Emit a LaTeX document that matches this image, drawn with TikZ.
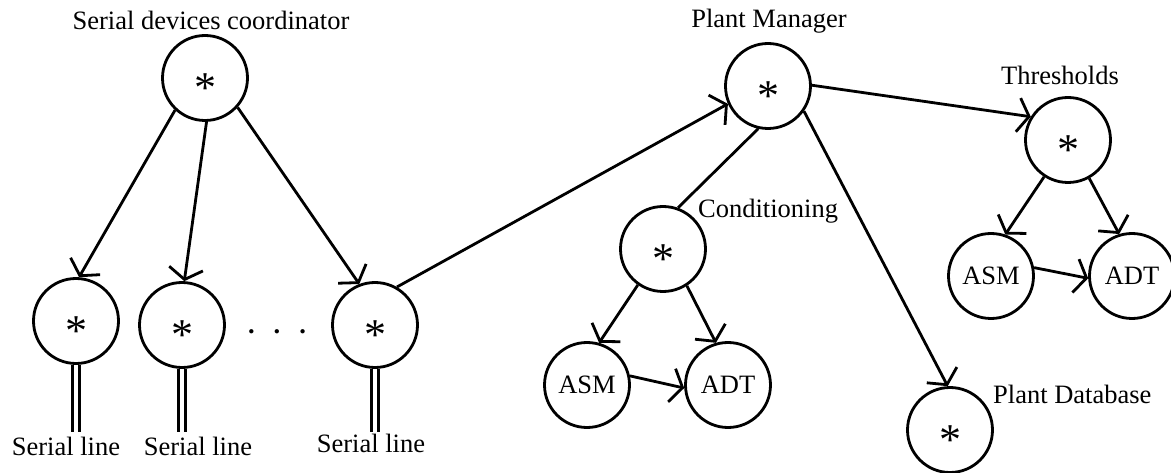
\documentclass[tikz,border=0pt]{standalone}
\usepackage{fontspec}
\setmainfont{Liberation Serif}
\usetikzlibrary{arrows.meta}
% larger asterisk used inside the component bubbles
\newcommand{\starglyph}{{\fontsize{44pt}{46pt}\selectfont *}}
\begin{document}
\begin{tikzpicture}[x=1pt,y=-1pt,
  font=\fontsize{26.5pt}{31pt}\selectfont,
  bubble/.style={circle, draw, line width=2.8pt, minimum size=85pt, inner sep=0pt},
  hub/.style={bubble, text height=49pt, text depth=0pt},
  flow/.style={line width=2.8pt, -{Straight Barb[length=11pt,width=34pt]}},
  link/.style={line width=2.8pt},
  serialwire/.style={line width=3pt, double, double distance=4.5pt},
  tag/.style={inner sep=0pt, anchor=base}
]
\useasboundingbox (0,0) rectangle (1171,473);

% component bubbles
\node[hub] (coord) at (205,78) {\starglyph};
\node[hub] (s1) at (76,321) {\starglyph};
\node[hub] (s2) at (182,325) {\starglyph};
\node[hub] (s3) at (375,325) {\starglyph};
\node[hub] (pm) at (768,86) {\starglyph};
\node[hub] (cond) at (663,249) {\starglyph};
\node[bubble] (casm) at (587,385) {ASM};
\node[bubble] (cadt) at (728,385) {ADT};
\node[hub] (pdb) at (950,430) {\starglyph};
\node[hub] (thr) at (1068,140) {\starglyph};
\node[bubble] (tasm) at (991,276) {ASM};
\node[bubble] (tadt) at (1132,276) {ADT};

% labels
\node[tag] (coordlbl) at (211,30) {Serial devices coordinator};
\node[tag] (pmlbl) at (769,28) {Plant Manager};
\node[tag, anchor=base west] (condlbl) at (698,218) {Conditioning};
\node[tag] (thrlbl) at (1060,85) {Thresholds};
\node[tag, anchor=base west] (pdblbl) at (993,403) {Plant Database};
\node[tag] (sl1) at (66,455) {Serial line};
\node[tag] (sl2) at (198,455) {Serial line};
\node[tag] (sl3) at (371,452) {Serial line};
\node[tag] (dots) at (277,334) {\bfseries .\hspace{19pt}.\hspace{19pt}.};

% serial line ends
\coordinate (w1) at (76,432);
\coordinate (w2) at (182,432);
\coordinate (w3) at (375,432);
\draw[serialwire] (s1.south) -- (w1);
\draw[serialwire] (s2.south) -- (w2);
\draw[serialwire] (s3.south) -- (w3);

% connectors
\draw[flow] (coord.-133) -- (s1.86);
\draw[flow] (coord.-88) -- (s2.87);
\draw[flow] (coord.-42) -- (s3.111);
\draw[flow] (s3.60) -- (pm.204);
\draw[link] (pm.-103) -- (cond.70);
\draw[flow] (pm.-35) -- (pdb.93);
\draw[flow] (pm.1) -- (thr.148);
\draw[flow] (cond.-125) -- (casm.74);
\draw[flow] (cond.-57) -- (cadt.106);
\draw[flow] (casm.12) -- (cadt.184);
\draw[flow] (thr.-123) -- (tasm.71);
\draw[flow] (thr.-61) -- (tadt.107);
\draw[flow] (tasm.11) -- (tadt.183);
\end{tikzpicture}
\end{document}
